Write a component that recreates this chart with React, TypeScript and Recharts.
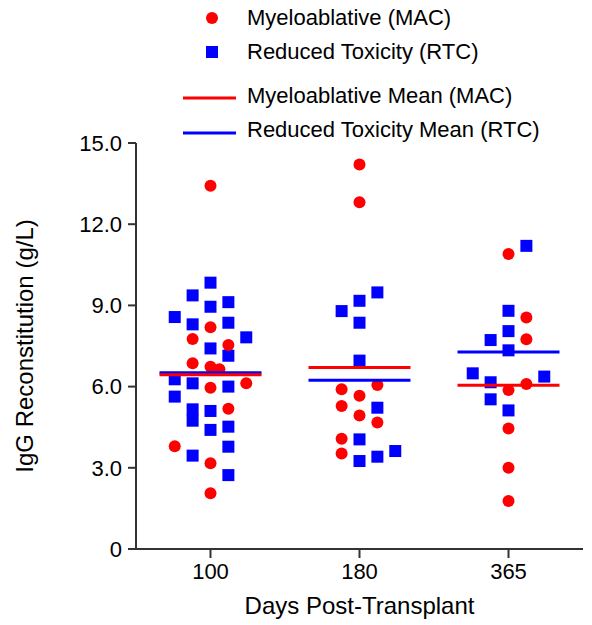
import React from "react";
import { ScatterChart, Scatter, XAxis, YAxis, Legend } from "recharts";

const RED = "#ff0000";
const BLUE = "#0000ff";
const FONT = "'Liberation Sans', Arial, sans-serif";

const days = ["100", "180", "365"];

// IgG values (g/L)
const mac100 = [13.42, 8.19, 7.76, 7.54, 6.86, 6.73, 6.64, 6.12, 5.96, 5.18, 3.8, 3.17, 2.06];
const mac180 = [14.21, 12.81, 6.06, 5.9, 5.66, 5.28, 4.93, 4.67, 4.07, 3.53];
const mac365 = [10.9, 8.55, 7.75, 6.1, 5.87, 4.45, 3.0, 1.77];

const rtc100 = [
  9.84, 9.37, 9.12, 8.95, 8.57, 8.36, 8.3, 7.82, 7.41, 7.14, 6.27, 6.12, 6.0, 5.63, 5.16, 5.1, 4.74, 4.52,
  4.4, 3.78, 3.45, 2.73,
];
const rtc180 = [9.48, 9.17, 8.79, 8.36, 6.96, 5.22, 4.05, 3.62, 3.41, 3.25];
const rtc365 = [11.2, 8.8, 8.05, 7.72, 7.34, 6.49, 6.37, 6.16, 5.53, 5.12];

// group means as drawn in the figure
const macMeans = [6.44, 6.71, 6.05];
const rtcMeans = [6.51, 6.23, 7.28];

// dot-plot dodge columns (so overlapping markers spread sideways)
const mac100Cols = [0, 0, -1, 1, -1, 0, 0.5, 2, 0, 1, -2, 0, 0];
const mac180Cols = [0, 0, 1, -1, 0, -1, 0, 1, -1, -1];
const mac365Cols = [0, 1, 1, 1, 0, 0, 0, 0];
const rtc100Cols = [0, -1, 1, 0, -2, 1, -1, 2, 0, 1, -2, -1, 1, -2, -1, 0, -1, 1, 0, 1, -1, 1];
const rtc180Cols = [1, 0, -1, 0, 0, 1, 0, 2, 1, 0];
const rtc365Cols = [1, 0, 0, -1, 0, -2, 2, -1, -1, 0];

const JITTER = 0.12;

const toPoints = (groups: number[][], cols: number[][]) =>
  groups.flatMap((vals, g) => vals.map((v, i) => ({ x: g + 0.5 + cols[g][i] * JITTER, y: v })));

const macPoints = toPoints([mac100, mac180, mac365], [mac100Cols, mac180Cols, mac365Cols]);
const rtcPoints = toPoints([rtc100, rtc180, rtc365], [rtc100Cols, rtc180Cols, rtc365Cols]);
const macMeanPoints = macMeans.map((m, g) => ({ x: g + 0.5, y: m }));
const rtcMeanPoints = rtcMeans.map((m, g) => ({ x: g + 0.5, y: m }));

const legendItems = [
  { label: "Myeloablative (MAC)", kind: "circle", color: RED, y: 18 },
  { label: "Reduced Toxicity (RTC)", kind: "square", color: BLUE, y: 52 },
  { label: "Myeloablative Mean (MAC)", kind: "line", color: RED, y: 96 },
  { label: "Reduced Toxicity Mean (RTC)", kind: "line", color: BLUE, y: 130 },
];

const Dot = (p: any) => <circle cx={p.cx} cy={p.cy} r={6} fill={RED} />;
const Square = (p: any) => <rect x={p.cx - 6} y={p.cy - 6} width={12} height={12} fill={BLUE} />;
const meanBar = (color: string) => (p: any) =>
  <line x1={p.cx - 51} x2={p.cx + 51} y1={p.cy} y2={p.cy} stroke={color} strokeWidth={3} />;

const LegendBox = () => (
  <div style={{ position: "relative", width: 592, height: 145, fontFamily: FONT }}>
    {legendItems.map((it) => (
      <div
        key={it.label}
        style={{
          position: "absolute",
          left: 170,
          top: it.y - 13,
          height: 26,
          display: "flex",
          alignItems: "center",
          fontSize: 22,
          color: "#000",
          whiteSpace: "nowrap",
        }}
      >
        <svg width={70} height={26}>
          {it.kind === "circle" && <circle cx={42} cy={13} r={6} fill={it.color} />}
          {it.kind === "square" && <rect x={36} y={7} width={12} height={12} fill={it.color} />}
          {it.kind === "line" && (
            <line x1={13} x2={66} y1={it.y < 110 ? 15 : 16} y2={it.y < 110 ? 15 : 16} stroke={it.color} strokeWidth={3} />
          )}
        </svg>
        <span style={{ marginLeft: 7 }}>{it.label}</span>
      </div>
    ))}
  </div>
);

export default function App() {
  return (
    <div style={{ position: "absolute", left: 0, top: 0, width: 592, height: 625, background: "#fff", fontFamily: FONT }}>
      <ScatterChart width={592} height={625} margin={{ top: 143, right: 9, bottom: 0, left: 0 }}>
        <XAxis
          type="number"
          dataKey="x"
          domain={[0, 3]}
          ticks={[0.5, 1.5, 2.5]}
          tickFormatter={(v: number) => days[Math.floor(v)]}
          height={76}
          tickSize={9}
          tickMargin={5}
          axisLine={{ stroke: "#333", strokeWidth: 2 }}
          tickLine={{ stroke: "#333", strokeWidth: 2 }}
          tick={{ fill: "#000", fontSize: 22, fontFamily: FONT }}
          label={{
            content: (props: any) => {
              const vb = props.viewBox;
              return (
                <text x={vb.x + vb.width / 2} y={605} textAnchor="middle" dominantBaseline="central" fontSize={24} fontFamily={FONT} fill="#000">
                  Days Post-Transplant
                </text>
              );
            },
          }}
        />
        <YAxis
          type="number"
          dataKey="y"
          domain={[0, 15]}
          ticks={[0, 3, 6, 9, 12, 15]}
          tickFormatter={(v: number) => (v === 0 ? "0" : v.toFixed(1))}
          width={136}
          tickSize={8}
          tickMargin={6}
          axisLine={{ stroke: "#333", strokeWidth: 2 }}
          tickLine={{ stroke: "#333", strokeWidth: 2 }}
          tick={{ fill: "#000", fontSize: 22, fontFamily: FONT }}
          label={{
            content: (props: any) => {
              const vb = props.viewBox;
              const cy = vb.y + vb.height / 2;
              return (
                <text x={24} y={cy} transform={`rotate(-90 24 ${cy})`} textAnchor="middle" dominantBaseline="central" fontSize={24} fontFamily={FONT} fill="#000">
                  IgG Reconstitution (g/L)
                </text>
              );
            },
          }}
        />
        <Legend
          layout="horizontal"
          verticalAlign="middle"
          align="center"
          wrapperStyle={{ position: "absolute", top: 0, left: 0, width: 592 }}
          content={() => <LegendBox />}
        />
        <Scatter name="Reduced Toxicity (RTC)" data={rtcPoints} shape={Square} isAnimationActive={false} />
        <Scatter name="Myeloablative (MAC)" data={macPoints} shape={Dot} isAnimationActive={false} />
        <Scatter name="Reduced Toxicity Mean (RTC)" data={rtcMeanPoints} shape={meanBar(BLUE)} isAnimationActive={false} />
        <Scatter name="Myeloablative Mean (MAC)" data={macMeanPoints} shape={meanBar(RED)} isAnimationActive={false} />
      </ScatterChart>
    </div>
  );
}
